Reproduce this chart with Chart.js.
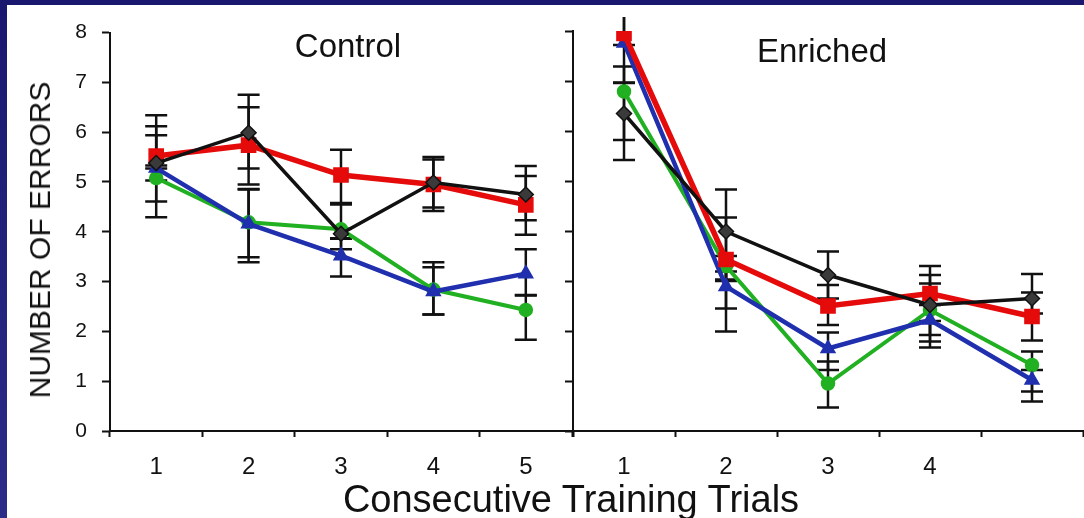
<!DOCTYPE html>
<html>
<head>
<meta charset="utf-8">
<script src="https://cdn.jsdelivr.net/npm/chart.js@4.4.1/dist/chart.umd.min.js"></script>
<style>
  html, body { margin: 0; padding: 0; }
  body {
    width: 1084px; height: 518px; overflow: hidden; position: relative;
    background: linear-gradient(#1a186e, #2c2c88);
    font-family: "Liberation Sans", Arial, sans-serif;
  }
  #sheet { position: absolute; left: 7px; top: 5px; width: 1077px; height: 513px; background: #fff; }
  .box { position: absolute; }
  #leftBox { left: 7px; top: 5px; width: 566px; height: 513px; }
  #rightBox { left: 560px; top: 5px; width: 524px; height: 513px; }
  .ttl { position: absolute; color: #111; white-space: nowrap; }
  #tControl { left: 348px; top: 29px; font-size: 33px; line-height: 33px; transform: translateX(-50%); }
  #tEnriched { left: 822px; top: 34px; font-size: 33px; line-height: 33px; transform: translateX(-50%); }
  #tY { left: 40px; top: 240px; font-size: 30px; line-height: 30px; transform: translate(-50%, -50%) rotate(-90deg); }
  #tX { left: 571px; top: 480px; font-size: 38px; line-height: 38px; transform: translateX(-50%); }
</style>
</head>
<body>
<div id="sheet"></div>
<div class="box" id="leftBox"><canvas id="cLeft" width="566" height="513"></canvas></div>
<div class="box" id="rightBox"><canvas id="cRight" width="524" height="513"></canvas></div>
<div class="ttl" id="tControl">Control</div>
<div class="ttl" id="tEnriched">Enriched</div>
<div class="ttl" id="tY">NUMBER OF ERRORS</div>
<div class="ttl" id="tX">Consecutive Training Trials</div>

<script>
// Trial labels for each group (the fifth Enriched trial carries no label)
const controlTrials  = ['1', '2', '3', '4', '5'];
const enrichedTrials = ['1', '2', '3', '4', ''];
const yTicks = [0, 1, 2, 3, 4, 5, 6, 7, 8];

// Control group: mean errors per trial
const controlRed   = [5.52, 5.74, 5.14, 4.95, 4.54];
const controlBlack = [5.38, 5.99, 3.96, 4.99, 4.75];
const controlBlue  = [5.28, 4.16, 3.52, 2.80, 3.16];
const controlGreen = [5.08, 4.19, 4.05, 2.84, 2.43];

// Control group: error bar extents (above / below the mean)
const controlRedUp     = [0.60, 0.76, 0.51, 0.50, 0.58];
const controlRedDown   = [0.25, 0.79, 0.56, 0.53, 0.60];
const controlBlackUp   = [0.96, 0.76, 0.10, 0.51, 0.57];
const controlBlackDown = [0.77, 0.72, 0.10, 0.50, 0.52];
const controlBlueUp    = [0.66, 0.69, 0.35, 0.59, 0.49];
const controlBlueDown  = [0.25, 0.77, 0.42, 0.46, 0.44];
const controlGreenUp   = [0.25, 0.67, 0.50, 0.45, 0.30];
const controlGreenDown = [0.79, 0.70, 0.40, 0.50, 0.60];

// Enriched group: mean errors per trial
const enrichedRed   = [7.95, 3.43, 2.50, 2.75, 2.29];
const enrichedBlack = [6.35, 3.99, 3.12, 2.52, 2.65];
const enrichedBlue  = [7.76, 2.89, 1.65, 2.22, 1.02];
const enrichedGreen = [6.79, 3.30, 0.95, 2.42, 1.32];

// Enriched group: error bar extents (above / below the mean)
const enrichedRedUp     = [0.80, 0.84, 0.42, 0.55, 0.48];
const enrichedRedDown   = [0.23, 0.98, 0.38, 0.55, 0.48];
const enrichedBlackUp   = [0.94, 0.84, 0.47, 0.60, 0.49];
const enrichedBlackDown = [0.93, 0.96, 0.47, 0.60, 0.30];
const enrichedBlueUp    = [0.60, 0.30, 0.32, 0.30, 0.20];
const enrichedBlueDown  = [0.80, 0.90, 0.43, 0.55, 0.43];
const enrichedGreenUp   = [0.18, 0.20, 0.44, 0.53, 0.27];
const enrichedGreenDown = [0.97, 0.30, 0.48, 0.63, 0.53];

const FONT = '"Liberation Sans", Arial, sans-serif';
const INK = '#111111';
const RED = '#e50b0b', BLUE = '#1f2fae', GREEN = '#21b021';

// Vertical error bars with caps, drawn beneath the lines
const errorBars = {
  id: 'errorBars',
  beforeDatasetsDraw(chart) {
    const { ctx, chartArea, scales: { y } } = chart;
    ctx.save();
    ctx.beginPath();
    ctx.rect(chartArea.left - 20, chartArea.top - 14,
             chartArea.right - chartArea.left + 40, chartArea.bottom - chartArea.top + 14);
    ctx.clip();
    ctx.strokeStyle = INK;
    ctx.lineWidth = 2.5;
    chart.data.datasets.forEach((ds, i) => {
      const meta = chart.getDatasetMeta(i);
      meta.data.forEach((pt, j) => {
        const v = ds.data[j];
        const yTop = y.getPixelForValue(v + ds.errUp[j]);
        const yBot = y.getPixelForValue(v - ds.errDown[j]);
        ctx.beginPath();
        ctx.moveTo(pt.x, yTop); ctx.lineTo(pt.x, yBot);
        ctx.moveTo(pt.x - 11, yTop); ctx.lineTo(pt.x + 11, yTop);
        ctx.moveTo(pt.x - 11, yBot); ctx.lineTo(pt.x + 11, yBot);
        ctx.stroke();
      });
    });
    ctx.restore();
  }
};

function series(data, up, down, color, style, radius, width, order, fill) {
  return {
    data, errUp: up, errDown: down,
    borderColor: color, borderWidth: width,
    pointStyle: style, pointRadius: radius,
    pointBackgroundColor: fill || color, pointBorderColor: color, pointBorderWidth: 1.5,
    tension: 0, order
  };
}

function panel(canvasId, labels, sets, showYLabels, yWidth) {
  return new Chart(document.getElementById(canvasId), {
    type: 'line',
    data: { labels, datasets: sets },
    options: {
      responsive: false,
      animation: false,
      devicePixelRatio: 1,
      layout: { autoPadding: false, padding: { top: 26, right: 1, bottom: 0, left: 0 } },
      plugins: { legend: { display: false }, tooltip: { enabled: false } },
      scales: {
        x: {
          type: 'category',
          offset: true,
          grid: { offset: true, drawOnChartArea: false, drawTicks: true, tickLength: 6, tickWidth: 2, tickColor: INK },
          border: { display: true, color: INK, width: 2 },
          ticks: { color: INK, font: { size: 24, family: FONT }, padding: 16, maxRotation: 0, autoSkip: false },
          afterFit(s) { s.height = 87; s.paddingLeft = 0; s.paddingRight = 0; }
        },
        y: {
          min: yTicks[0],
          max: yTicks[yTicks.length - 1],
          afterBuildTicks(s) { s.ticks = yTicks.map(v => ({ value: v })); },
          grid: { drawOnChartArea: false, drawTicks: true, tickLength: 8, tickWidth: 2, tickColor: INK },
          border: { display: true, color: INK, width: 2 },
          ticks: { display: showYLabels, color: INK, font: { size: 21, family: FONT }, padding: 15 },
          afterFit(s) { s.width = yWidth; }
        }
      }
    },
    plugins: [errorBars]
  });
}

panel('cLeft', controlTrials, [
  series(controlBlack, controlBlackUp, controlBlackDown, INK, 'rectRot', 7.5, 3.5, 0, '#3a3a3a'),
  series(controlRed, controlRedUp, controlRedDown, RED, 'rect', 10, 5.5, 1),
  series(controlBlue, controlBlueUp, controlBlueDown, BLUE, 'triangle', 8, 4.5, 2),
  series(controlGreen, controlGreenUp, controlGreenDown, GREEN, 'circle', 6.5, 4, 3)
], true, 103);

panel('cRight', enrichedTrials, [
  series(enrichedBlack, enrichedBlackUp, enrichedBlackDown, INK, 'rectRot', 7.5, 3.5, 0, '#3a3a3a'),
  series(enrichedRed, enrichedRedUp, enrichedRedDown, RED, 'rect', 10, 5.5, 1),
  series(enrichedBlue, enrichedBlueUp, enrichedBlueDown, BLUE, 'triangle', 8, 4.5, 2),
  series(enrichedGreen, enrichedGreenUp, enrichedGreenDown, GREEN, 'circle', 6.5, 4, 3)
], false, 13);
</script>
</body>
</html>
